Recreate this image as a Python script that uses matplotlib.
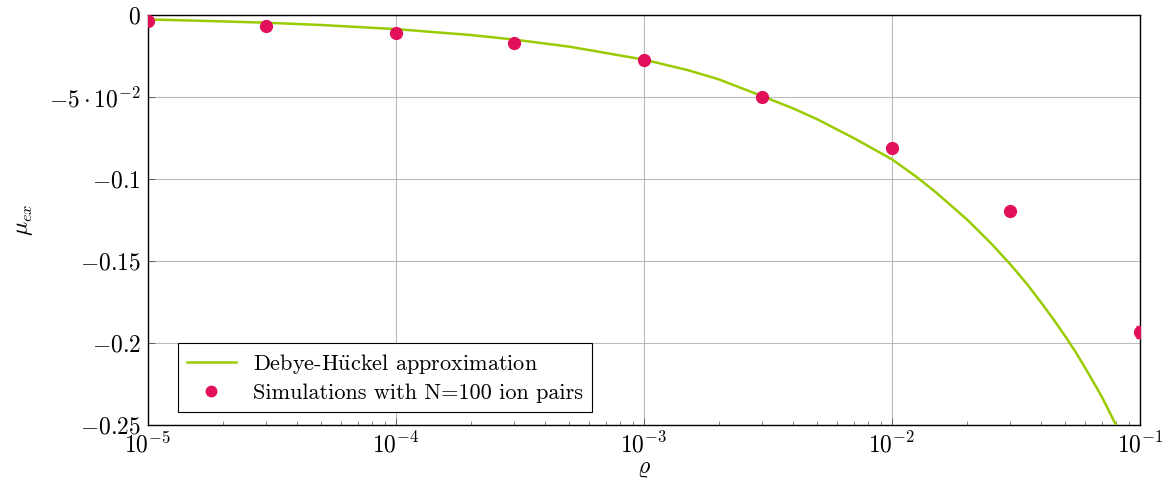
import matplotlib
matplotlib.use("Agg")
import matplotlib.pyplot as plt
from matplotlib.lines import Line2D
from matplotlib.ticker import FixedLocator, FixedFormatter, LogLocator, NullFormatter

plt.rcParams['font.family'] = ['cmr10', 'DejaVu Serif']
plt.rcParams['mathtext.fontset'] = 'cm'
plt.rcParams['axes.formatter.use_mathtext'] = True
plt.rcParams['font.size'] = 11

# Debye-Hückel curve
dh_rho = [1e-5, 2e-5, 3e-5, 5e-5, 1e-4, 2e-4, 3e-4, 5e-4, 1e-3, 1.5e-3, 2e-3, 3e-3, 4e-3, 5e-3, 7e-3,
          1e-2, 1.25e-2, 1.5e-2, 2e-2, 2.5e-2, 3e-2, 3.5e-2, 4e-2, 4.5e-2, 5e-2, 5.5e-2,
          6e-2, 6.5e-2, 7e-2, 7.5e-2, 8e-2, 8.2e-2]
dh_mu = [-0.0027, -0.0039, -0.0047, -0.0061, -0.0086, -0.0122, -0.0150, -0.0193, -0.0272, -0.0336,
         -0.0392, -0.0495, -0.0570, -0.0636, -0.0750, -0.0880, -0.0985, -0.1080, -0.1245, -0.1390,
         -0.1520, -0.1640, -0.1755, -0.1860, -0.1960, -0.2055, -0.2150, -0.2240, -0.2325,
         -0.2415, -0.2500, -0.2540]

# Simulation points
sim_rho = [1e-5, 3e-5, 1e-4, 3e-4, 1e-3, 3e-3, 1e-2, 3e-2, 1e-1]
sim_mu = [-0.0035, -0.0066, -0.0107, -0.0170, -0.0276, -0.0499, -0.0813, -0.1195, -0.1934]
sim_err = [0.0005, 0.0005, 0.0006, 0.0006, 0.0008, 0.0008, 0.0015, 0.0025, 0.0035]

ytick_vals = [0, -0.05, -0.1, -0.15, -0.2, -0.25]
ytick_labels = [r'$0$', r'$-5\cdot10^{-2}$', r'$-0.1$', r'$-0.15$', r'$-0.2$', r'$-0.25$']

dh_label = r'Debye-H$\mathrm{\ddot{u}}$ckel approximation'
sim_label = 'Simulations with N=100 ion pairs'

green = '#99cc00'
red = '#e2105a'

fig = plt.figure(figsize=(11.7, 4.82), dpi=100)
ax = fig.add_axes([148/1170, 1-425/482, (1140-148)/1170, (425-15)/482])

ax.plot(dh_rho, dh_mu, color=green, lw=1.8, zorder=3)
ax.errorbar(sim_rho, sim_mu, yerr=sim_err, fmt='o', color=red, ms=8.5, capsize=3,
            elinewidth=1, capthick=1, zorder=4)

ax.set_xscale('log')
ax.set_xlim(1e-5, 1e-1)
ax.set_ylim(-0.25, 0)
ax.yaxis.set_major_locator(FixedLocator(ytick_vals))
ax.yaxis.set_major_formatter(FixedFormatter(ytick_labels))
ax.xaxis.set_major_locator(LogLocator(base=10, numticks=10))
ax.xaxis.set_minor_locator(LogLocator(base=10, subs=range(2, 10), numticks=50))
ax.xaxis.set_minor_formatter(NullFormatter())

ax.grid(True, which='major', color='#bbbbbb', lw=0.8)
ax.set_axisbelow(True)
ax.tick_params(axis='both', which='major', direction='in', length=5, width=0.6, color='#555555', labelsize=17)
ax.tick_params(axis='x', which='minor', direction='in', length=3, width=0.5, color='#555555')
ax.tick_params(axis='x', which='major', pad=5)
ax.tick_params(axis='y', which='major', pad=5)
for s in ax.spines.values():
    s.set_linewidth(1.0)

ax.set_xlabel(r'$\varrho$', fontsize=17, labelpad=0)
ax.set_ylabel(r'$\mu_{ex}$', fontsize=17, labelpad=10)

handles = [Line2D([], [], color=green, lw=1.8),
           Line2D([], [], marker='o', ls='none', color=red, ms=7.5)]
leg = ax.legend(handles, [dh_label, sim_label], loc='lower left', bbox_to_anchor=(0.030, 0.032),
                fontsize=16, fancybox=False, framealpha=1, edgecolor='black', handlelength=2.2,
                borderpad=0.4, labelspacing=0.35, handletextpad=0.8, borderaxespad=0)
leg.get_frame().set_linewidth(0.8)

fig.savefig('out.png', dpi=100)
